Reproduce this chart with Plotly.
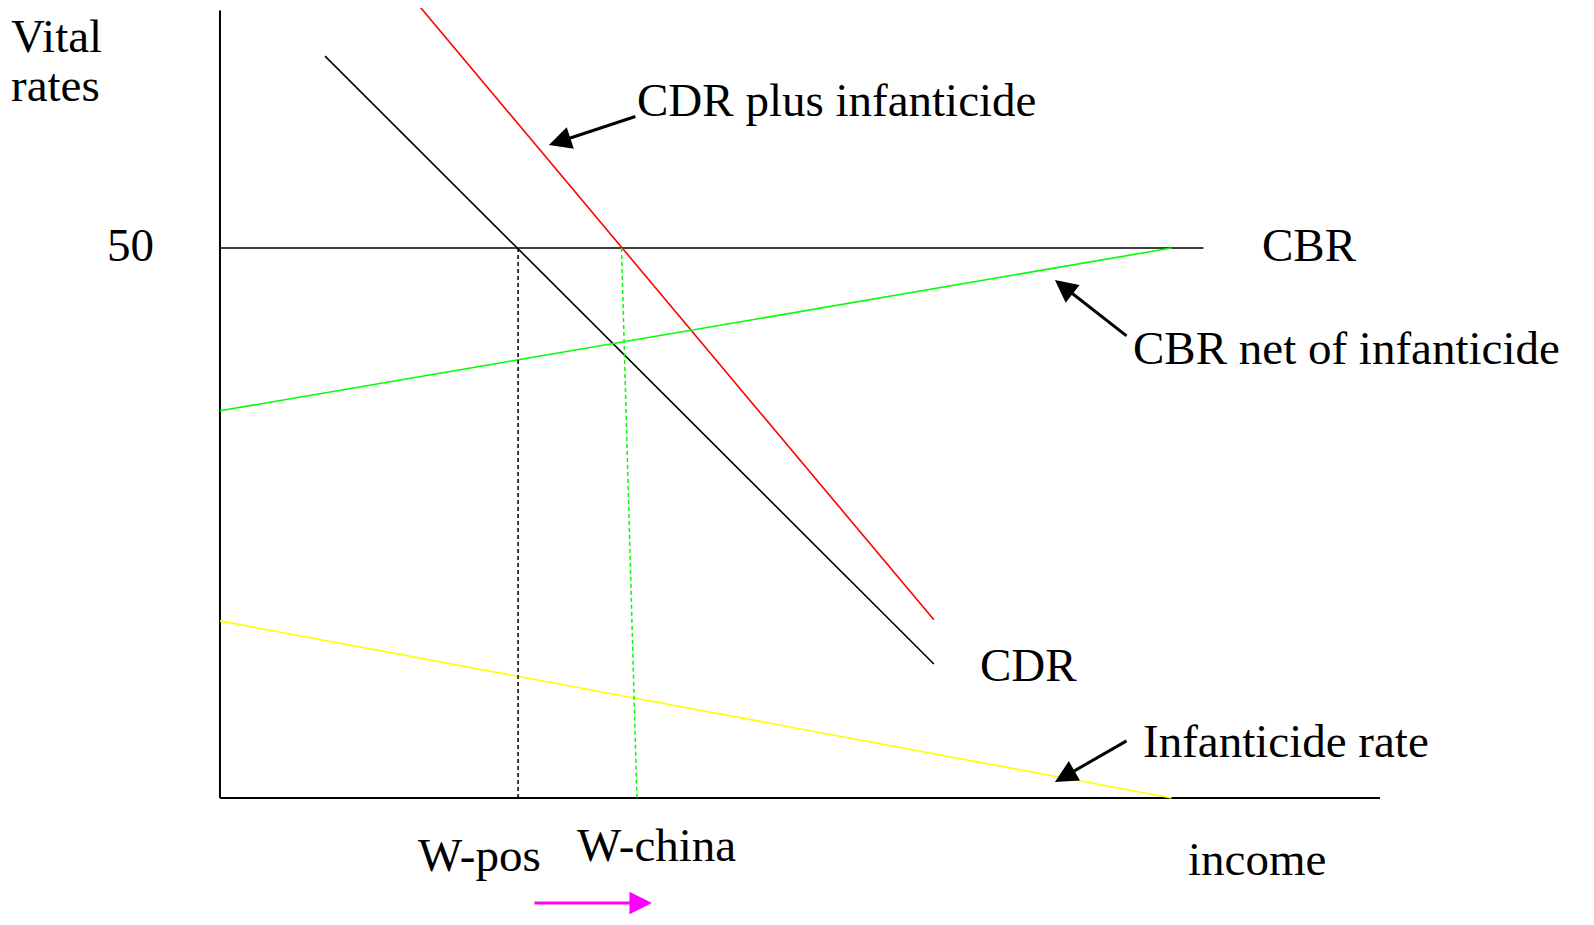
import plotly.graph_objects as go

# ---- data (income units, vital rates per 1000) ----
cbr_income = [0, 89.4]
cbr_values = [50, 50]

cdr_income = [9.55, 64.9]
cdr_values = [67.45, 12.18]

cdr_plus_income = [17.7, 64.9]
cdr_plus_values = [72.5, 16.2]

cbr_net_income = [0, 86.5]
cbr_net_values = [35.2, 50]

infanticide_income = [0, 86.5]
infanticide_values = [16.1, 0]

w_pos_income = [27.1, 27.1]
w_pos_rates = [50, 0]

w_china_income = [36.5, 37.9]
w_china_rates = [50, 0]

x_axis_end = 105.45
y_axis_top = 71.6

FONT = "Liberation Serif, Times New Roman, serif"
FS = 47

fig = go.Figure()

def line(x, y, color, width=1.6, dash=None):
    fig.add_trace(go.Scatter(x=x, y=y, mode="lines", cliponaxis=False,
                             line=dict(color=color, width=width, dash=dash),
                             hoverinfo="skip", showlegend=False))

# axes
line([0, 0], [0, y_axis_top], "black", 2)
line([0, x_axis_end], [0, 0], "black", 2)

line(cbr_income, cbr_values, "black")
line(cdr_income, cdr_values, "black")
line(cdr_plus_income, cdr_plus_values, "#FF0000")
line(cbr_net_income, cbr_net_values, "#00FF00")
line(infanticide_income, infanticide_values, "#FFFF00")
line(w_pos_income, w_pos_rates, "black", 1.5, "4px,3px")
line(w_china_income, w_china_rates, "#00FF00", 1.5, "4px,3px")

def text(x, y, s):
    fig.add_annotation(x=x, y=y, xref="x", yref="y", text=s, showarrow=False,
                       xanchor="left", yanchor="middle", borderpad=0,
                       font=dict(family=FONT, size=FS, color="black"))

def arrow(x0, y0, x1, y1, color="black", width=3):
    fig.add_annotation(x=x1, y=y1, ax=x0, ay=y0, xref="x", yref="y",
                       axref="x", ayref="y", text="", showarrow=True,
                       arrowhead=2, arrowsize=1.5, arrowwidth=width,
                       arrowcolor=color, standoff=0)

text(-19.1, 69.3, "Vital")
text(-19.1, 64.8, "rates")
text(-10.4, 50.3, "50")
text(94.6, 50.3, "CBR")
text(82.9, 40.9, "CBR net of infanticide")
text(37.8, 63.5, "CDR plus infanticide")
text(69.0, 12.1, "CDR")
text(83.8, 5.2, "Infanticide rate")
text(17.9, -5.2, "W-pos")
text(32.4, -4.3, "W-china")
text(87.9, -5.5, "income")

arrow(37.9, 62.0, 29.9, 59.36)
arrow(82.55, 41.9, 75.9, 47.1)
arrow(82.55, 5.27, 75.9, 1.45)
arrow(28.45, -9.55, 39.27, -9.55, "#FF00FF", 3)

# figure sized to fit inside the 1594x925 window with the 8px body margin
fig.update_layout(
    width=1578, height=907,
    margin=dict(l=0, r=0, t=0, b=0),
    plot_bgcolor="white", paper_bgcolor="white",
    xaxis=dict(range=[-19.27, 124.18], visible=False, fixedrange=True),
    yaxis=dict(range=[(798 - 915) / 11, 71.82], visible=False, fixedrange=True),
)

fig.write_html("out.html")
